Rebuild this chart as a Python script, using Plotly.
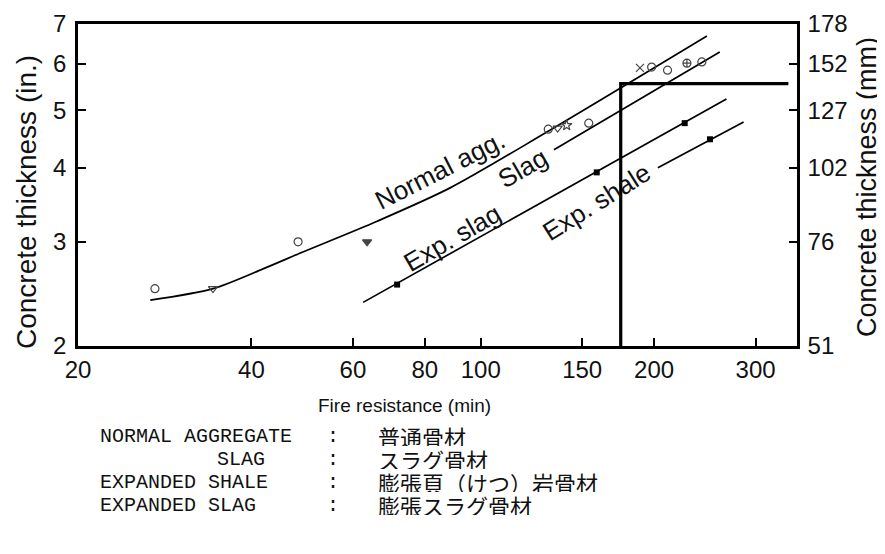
import numpy as np
import plotly.graph_objects as go

# ---- axis ticks ----
x_ticks = [20, 40, 60, 80, 100, 150, 200, 300]
y_ticks_in = [2, 3, 4, 5, 6, 7]
y_ticks_mm = ["51", "76", "102", "127", "152", "178"]

# ---- fitted lines (fire resistance min, thickness in.) ----
normal_line_x = [26.7, 34.3, 41.9, 49.0, 66.1, 88.5, 129.4, 247]
normal_line_y = [2.39, 2.50, 2.70, 2.88, 3.25, 3.70, 4.58, 6.68]
slag_line_x = [134, 260]
slag_line_y = [4.29, 6.28]
expslag_line_x = [62.5, 267]
expslag_line_y = [2.37, 5.23]
expshale_line_x = [203, 286]
expshale_line_y = [4.00, 4.78]

# ---- test points ----
normal_pts_x = [27.2, 34.3, 48.2, 63.5, 131, 136, 141, 189, 198, 211]
normal_pts_y = [2.50, 2.50, 3.00, 3.00, 4.65, 4.67, 4.72, 5.90, 5.92, 5.85]
normal_pts_sym = ["circle-open", "triangle-down-open", "circle-open", "triangle-down",
                  "circle-open", "triangle-down-open", "star-open", "x-thin-open",
                  "circle-open", "circle-open"]
slag_pts_x = [154, 228, 242]
slag_pts_y = [4.76, 6.01, 6.04]
slag_pts_sym = ["circle-open", "circle-cross-open", "circle-open"]
expslag_pts_x = [71.6, 159, 226]
expslag_pts_y = [2.54, 3.93, 4.76]
expshale_pts_x = [250]
expshale_pts_y = [4.47]

# ---- design example (175 min -> 5.55 in.) ----
design_x = [175, 175, 342]
design_y = [2, 5.55, 5.55]

# ---- curve labels ----
curve_labels = ["Normal agg.", "Slag", "Exp. slag", "Exp. shale"]
label_x = [85, 118.5, 89.2, 159]
label_y = [3.97, 3.99, 3.04, 3.5]
label_angle = [-27, -30, -30, -32]

# ---- axis titles ----
x_title = "Fire resistance (min)"
y_title_left = "Concrete thickness (in.)"
y_title_right = "Concrete thickness (mm)"

# ---- bottom glossary ----
gloss_en = ["NORMAL AGGREGATE", "SLAG", "EXPANDED SHALE", "EXPANDED SLAG"]
gloss_ja = ["普通骨材", "スラグ骨材", "膨張頁（けつ）岩骨材", "膨張スラグ骨材"]

SANS = "Liberation Sans, Arial, sans-serif"
MONO = "Liberation Mono, monospace"

# page body has an 8px margin: figure is 8px smaller and its origin sits at (8, 8)
W, H = 877, 546
OFF = 8
PL, PR, PT, PB = 78, 797, 24, 346          # plot area in window pixels


def px(xw):
    return (xw - PL) / (PR - PL)


def py(yw):
    return (PB - yw) / (PB - PT)


fig = go.Figure()

line_style = dict(color="black", width=1.7)
fig.add_trace(go.Scatter(x=normal_line_x, y=normal_line_y, mode="lines",
                         line=dict(shape="spline", smoothing=0.8, **line_style)))
for lx, ly in [(slag_line_x, slag_line_y), (expslag_line_x, expslag_line_y),
               (expshale_line_x, expshale_line_y)]:
    fig.add_trace(go.Scatter(x=lx, y=ly, mode="lines", line=line_style))

fig.add_trace(go.Scatter(x=normal_pts_x, y=normal_pts_y, mode="markers",
                         marker=dict(symbol=normal_pts_sym, size=8, color="#444",
                                     line=dict(color="#444", width=1.2))))
fig.add_trace(go.Scatter(x=slag_pts_x, y=slag_pts_y, mode="markers",
                         marker=dict(symbol=slag_pts_sym, size=8, color="#444",
                                     line=dict(color="#444", width=1.2))))
fig.add_trace(go.Scatter(x=expslag_pts_x + expshale_pts_x,
                         y=expslag_pts_y + expshale_pts_y, mode="markers",
                         marker=dict(symbol="square", size=6, color="black")))
fig.add_trace(go.Scatter(x=design_x, y=design_y, mode="lines", yaxis="y2",
                         line=dict(color="black", width=3.2), cliponaxis=False))

for t, lx, ly, ang in zip(curve_labels, label_x, label_y, label_angle):
    fig.add_annotation(x=np.log10(lx), y=np.log10(ly), xref="x", yref="y", text=t,
                       textangle=ang, showarrow=False,
                       font=dict(family=SANS, size=26, color="#111"))

# axis titles
fig.add_annotation(x=px(404), y=py(405), xref="paper", yref="paper", text=x_title,
                   showarrow=False, xanchor="center", yanchor="middle",
                   font=dict(family=SANS, size=19, color="#111"))
fig.add_annotation(x=px(26), y=py(202), xref="paper", yref="paper", text=y_title_left,
                   showarrow=False, textangle=-90, xanchor="center", yanchor="middle",
                   font=dict(family=SANS, size=28, color="#111"))
fig.add_annotation(x=px(867), y=py(187), xref="paper", yref="paper", text=y_title_right,
                   showarrow=False, textangle=-90, xanchor="center", yanchor="middle",
                   font=dict(family=SANS, size=27, color="#111"))

# glossary rows
row_y = [436, 459, 482, 505]
en_x = [100, 217, 100, 100]
for i in range(4):
    fig.add_annotation(x=px(en_x[i] - 2), y=py(row_y[i]), xref="paper", yref="paper",
                       xanchor="left", yanchor="middle", text=gloss_en[i], showarrow=False,
                       height=20, font=dict(family=MONO, size=20, color="#111"))
    fig.add_annotation(x=px(333), y=py(row_y[i]), xref="paper", yref="paper",
                       xanchor="center", yanchor="middle", text=":", showarrow=False,
                       height=20, font=dict(family=MONO, size=20, color="#111"))
    fig.add_annotation(x=px(376), y=py(row_y[i]), xref="paper", yref="paper",
                       xanchor="left", yanchor="middle", text=gloss_ja[i], showarrow=False,
                       height=20, font=dict(family="Noto Sans CJK JP", size=22, color="#111"))

yrange = [np.log10(2), np.log10(7)]
common = dict(ticks="inside", ticklen=8, tickwidth=1.5, tickcolor="black",
              showline=True, linewidth=2.5, linecolor="black",
              showgrid=False, zeroline=False, automargin=False,
              tickfont=dict(family=SANS, size=24, color="#111"))
fig.update_layout(
    width=W, height=H,
    margin=dict(l=PL - OFF, r=W - (PR - OFF), t=PT - OFF, b=H - (PB - OFF)),
    paper_bgcolor="white", plot_bgcolor="white",
    showlegend=False,
    xaxis=dict(type="log", range=[np.log10(20), np.log10(354)],
               tickvals=x_ticks, ticktext=[str(v) for v in x_ticks],
               mirror=True, ticklabelstandoff=0, **common),
    yaxis=dict(type="log", range=yrange, tickvals=y_ticks_in,
               ticktext=[str(v) for v in y_ticks_in], ticklabelstandoff=4, **common),
    yaxis2=dict(type="log", range=yrange, overlaying="y", side="right",
                tickvals=y_ticks_in, ticktext=y_ticks_mm, ticklabelstandoff=3, **common),
)

fig.write_html("out.html")
